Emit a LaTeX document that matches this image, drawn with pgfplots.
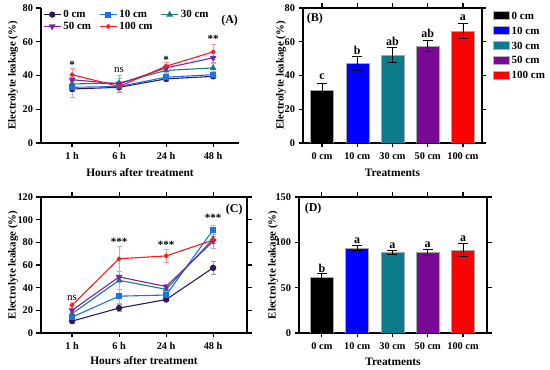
\documentclass[border=0pt]{standalone}
\usepackage{fontspec}
\setmainfont{Liberation Serif}
\usepackage{pgfplots}
\pgfplotsset{compat=1.18}
\usepackage{pgfplotstable}

\definecolor{c0}{HTML}{2D1B5E}
\definecolor{c10}{HTML}{1F6FE8}
\definecolor{c30}{HTML}{1C7C7C}
\definecolor{c50}{HTML}{7B22A8}
\definecolor{c100}{HTML}{FF1A1A}
\definecolor{b0}{HTML}{000000}
\definecolor{b10}{HTML}{0000FF}
\definecolor{b30}{HTML}{0B7B8C}
\definecolor{b50}{HTML}{7A0A96}
\definecolor{b100}{HTML}{FF0000}

% Panel A data: x y err
\pgfplotstableread{
x y e
0 32 1.5
1 33 1.5
2 38 1.5
3 39.5 1.5
}\Aa
\pgfplotstableread{
x y e
0 33 6
1 33.5 2
2 39 1.5
3 40.5 2
}\Ab
\pgfplotstableread{
x y e
0 35 2
1 35.5 3
2 43 2
3 44.5 2.5
}\Ac
\pgfplotstableread{
x y e
0 37.5 2.5
1 35 5
2 44.5 2
3 50.5 3
}\Ad
\pgfplotstableread{
x y e
0 40.5 4
1 33.5 3
2 45.5 2.5
3 54 4.5
}\Ae
% Panel C data
\pgfplotstableread{
x y e
0 10.5 2
1 22 3
2 29.5 2
3 57.5 6
}\Ca
\pgfplotstableread{
x y e
0 14 2
1 32.5 6
2 33.5 3
3 91 4
}\Cb
\pgfplotstableread{
x y e
0 17 2
1 46.5 8
2 38.5 3
3 83 4
}\Cc
\pgfplotstableread{
x y e
0 20 2
1 49.5 5
2 41 2
3 81 6
}\Cd
\pgfplotstableread{
x y e
0 24.5 2.5
1 65.5 11
2 68 6
3 82 3
}\Ce

\pgfplotsset{
  common/.style={
    scale only axis,
    anchor=south west,
    font=\bfseries\fontsize{10.3}{12}\selectfont,
    /pgf/number format/assume math mode=true,
    tick align=outside,
    major tick length=4.5pt,
    tick style={line width=1.1pt,black},
    axis line style={line width=1.1pt},
    ylabel={Electrolyte leakage (\%)},
    label style={font=\bfseries\fontsize{10.8}{13}\selectfont},
    xlabel style={font=\bfseries\fontsize{11.4}{14}\selectfont, anchor=center},
    ylabel style={anchor=center},
    xticklabel style={yshift=-1.5pt},
  },
  lineplot/.style={
    common,
    xtick={0,1,2,3},
    xticklabels={1 h,6 h,24 h,48 h},
    xlabel={Hours after treatment},
    xmin=-0.66,
  },
  barplot/.style={
    common,
    xtick={0,1,2,3,4},
    xticklabels={0 cm,10 cm,30 cm,50 cm,100 cm},
    xlabel={Treatments},
  },
  ser/.style n args={3}{color=#1, line width=1.1pt, mark=#2, mark size=#3,
    mark options={solid, fill=#1, draw=#1},
    /pgfplots/error bars/y dir=both, /pgfplots/error bars/y explicit,
    /pgfplots/error bars/error bar style={color=#1!45!white, line width=0.8pt},
    /pgfplots/error bars/error mark options={rotate=90, mark size=2.5pt, color=#1!45!white, line width=0.8pt}},
  barser/.style={ybar, bar shift=0pt, fill=#1, draw=gray!70, line width=0.4pt, bar width=23pt,
    /pgfplots/error bars/y dir=both, /pgfplots/error bars/y explicit,
    /pgfplots/error bars/error bar style={color=black, line width=0.9pt},
    /pgfplots/error bars/error mark options={rotate=90, mark size=5pt, line width=0.9pt, black}},
}

\begin{document}
\begin{tikzpicture}
\path[use as bounding box] (0pt,0pt) rectangle (550pt,370pt);

% ---------------- Panel A ----------------
\begin{axis}[lineplot,
  at={(41pt,227pt)}, width=198pt, height=135pt,
  xmax=3.55, ymin=0, ymax=80, ytick={0,20,40,60,80},
  axis x line*=bottom, axis y line*=left,
  xlabel style={at={(axis description cs:0.5,-0.222)}},
  ylabel style={at={(axis description cs:-0.141,0.5)}},
  legend style={at={(0.01,1.0)}, anchor=north west, draw=none, fill=none,
    font=\bfseries\fontsize{11}{12}\selectfont, inner sep=0pt,
    /tikz/every even column/.append style={column sep=6pt}, row sep=-1pt},
  legend columns=3,
  legend cell align=left,
]
\addplot[ser={c0}{*}{2.6pt}] table[x=x,y=y,y error=e]{\Aa};
\addlegendentry{0 cm}
\addplot[ser={c10}{square*}{2.4pt}] table[x=x,y=y,y error=e]{\Ab};
\addlegendentry{10 cm}
\addplot[ser={c30}{triangle*}{2.8pt}] table[x=x,y=y,y error=e]{\Ac};
\addlegendentry{30 cm}
\addplot[ser={c50}{triangle*}{2.8pt}, mark options={solid, fill=c50, draw=c50, rotate=180}] table[x=x,y=y,y error=e]{\Ad};
\addlegendentry{50 cm}
\addplot[ser={c100}{*}{1.8pt}] table[x=x,y=y,y error=e]{\Ae};
\addlegendentry{100 cm}
\node[font=\bfseries\fontsize{11}{12}\selectfont] at (axis cs:0,46.5) {*};
\node[font=\fontsize{11}{12}\selectfont] at (axis cs:1,43.5) {ns};
\node[font=\bfseries\fontsize{11}{12}\selectfont] at (axis cs:2,49) {*};
\node[font=\bfseries\fontsize{11}{12}\selectfont] at (axis cs:3,62) {**};
\node[font=\bfseries\fontsize{12}{13}\selectfont] at (axis cs:3.35,72.5) {(A)};
\end{axis}

% ---------------- Panel B ----------------
\begin{axis}[barplot,
  at={(303pt,227pt)}, width=179pt, height=135pt,
  xmin=-0.54, xmax=4.54, ymin=0, ymax=80, ytick={0,20,40,60,80},
  xlabel style={at={(axis description cs:0.5,-0.222)}},
  ylabel style={at={(axis description cs:-0.123,0.5)}},
  legend style={at={(1.045,1.0)}, anchor=north west, draw=none, fill=none,
    font=\bfseries\fontsize{11}{14}\selectfont, row sep=2pt},
  legend image code/.code={\draw[#1, draw=gray!60] (0pt,-3pt) rectangle (16pt,5pt);},
  legend cell align=left,
]
\addplot[barser=b0] table[x=x,y=y,y error=e] {
x y e
0 31.5 4
};
\addlegendentry{0 cm}
\addplot[barser=b10] table[x=x,y=y,y error=e] {
x y e
1 47 4
};
\addlegendentry{10 cm}
\addplot[barser=b30] table[x=x,y=y,y error=e] {
x y e
2 52 4.5
};
\addlegendentry{30 cm}
\addplot[barser=b50] table[x=x,y=y,y error=e] {
x y e
3 57.5 3.5
};
\addlegendentry{50 cm}
\addplot[barser=b100] table[x=x,y=y,y error=e] {
x y e
4 66.5 4.5
};
\addlegendentry{100 cm}
\node[font=\bfseries\fontsize{12}{13}\selectfont] at (axis cs:0,39) {c};
\node[font=\bfseries\fontsize{12}{13}\selectfont] at (axis cs:1,55) {b};
\node[font=\bfseries\fontsize{12}{13}\selectfont] at (axis cs:2,60) {ab};
\node[font=\bfseries\fontsize{12}{13}\selectfont] at (axis cs:3,65) {ab};
\node[font=\bfseries\fontsize{12}{13}\selectfont] at (axis cs:4,74.5) {a};
\node[font=\bfseries\fontsize{12}{13}\selectfont] at (axis cs:-0.2,74) {(B)};
\end{axis}

% ---------------- Panel C ----------------
\begin{axis}[lineplot,
  at={(41pt,37pt)}, width=206pt, height=136pt,
  xmax=3.72, ymin=0, ymax=120, ytick={0,20,40,60,80,100,120},
  xlabel style={at={(axis description cs:0.5,-0.206)}},
  ylabel style={at={(axis description cs:-0.136,0.5)}},
]
\addplot[ser={c0}{*}{2.6pt}] table[x=x,y=y,y error=e]{\Ca};
\addplot[ser={c10}{square*}{2.4pt}] table[x=x,y=y,y error=e]{\Cb};
\addplot[ser={c30}{triangle*}{2.8pt}] table[x=x,y=y,y error=e]{\Cc};
\addplot[ser={c50}{triangle*}{2.8pt}, mark options={solid, fill=c50, draw=c50, rotate=180}] table[x=x,y=y,y error=e]{\Cd};
\addplot[ser={c100}{*}{1.8pt}] table[x=x,y=y,y error=e]{\Ce};
\node[font=\fontsize{11}{12}\selectfont] at (axis cs:0,31) {ns};
\node[font=\bfseries\fontsize{11}{12}\selectfont] at (axis cs:1,80.5) {***};
\node[font=\bfseries\fontsize{11}{12}\selectfont] at (axis cs:2,77.5) {***};
\node[font=\bfseries\fontsize{11}{12}\selectfont] at (axis cs:3,101.5) {***};
\node[font=\bfseries\fontsize{12}{13}\selectfont] at (axis cs:3.45,108.5) {(C)};
\end{axis}

% ---------------- Panel D ----------------
\begin{axis}[barplot,
  at={(299pt,37pt)}, width=188pt, height=136pt,
  xmin=-0.65, xmax=4.68, ymin=0, ymax=150, ytick={0,50,100,150},
  xlabel style={at={(axis description cs:0.5,-0.213)}},
  ylabel style={at={(axis description cs:-0.138,0.5)}},
]
\addplot[barser=b0] table[x=x,y=y,y error=e] {
x y e
0 61.5 4
};
\addplot[barser=b10] table[x=x,y=y,y error=e] {
x y e
1 94 3
};
\addplot[barser=b30] table[x=x,y=y,y error=e] {
x y e
2 89 2
};
\addplot[barser=b50] table[x=x,y=y,y error=e] {
x y e
3 89 3
};
\addplot[barser=b100] table[x=x,y=y,y error=e] {
x y e
4 91.5 7
};
\node[font=\bfseries\fontsize{12}{13}\selectfont] at (axis cs:0,71) {b};
\node[font=\bfseries\fontsize{12}{13}\selectfont] at (axis cs:1,102) {a};
\node[font=\bfseries\fontsize{12}{13}\selectfont] at (axis cs:2,96.5) {a};
\node[font=\bfseries\fontsize{12}{13}\selectfont] at (axis cs:3,97.5) {a};
\node[font=\bfseries\fontsize{12}{13}\selectfont] at (axis cs:4,103.5) {a};
\node[font=\bfseries\fontsize{12}{13}\selectfont] at (axis cs:-0.25,137) {(D)};
\end{axis}
\end{tikzpicture}
\end{document}
